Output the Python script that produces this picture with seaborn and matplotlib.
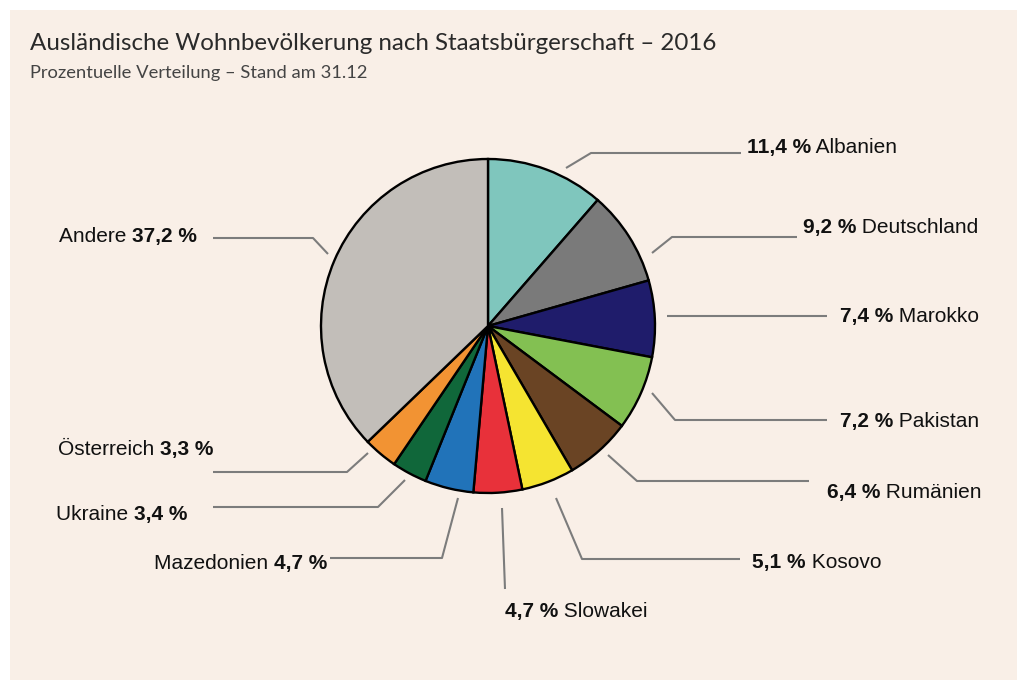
import matplotlib.pyplot as plt
import seaborn as sns
from matplotlib.patches import Rectangle

# Daten
laender = ["Albanien", "Deutschland", "Marokko", "Pakistan", "Rumänien", "Kosovo",
           "Slowakei", "Mazedonien", "Ukraine", "Österreich", "Andere"]
anteile = [11.4, 9.2, 7.4, 7.2, 6.4, 5.1, 4.7, 4.7, 3.4, 3.3, 37.2]
farben = ["#7fc6bd", "#7a7a7a", "#1f1c6b", "#83c052", "#6a4424", "#f5e431",
          "#e8313a", "#2173b9", "#10673a", "#f29333", "#c2beb9"]

# Layout in Pixeln (y nach unten): Textposition (Grundlinie), Seite, Führungslinie
W, H = 1017, 681
layout = {
    "Albanien":    ((747, 153), "r", [(566, 168), (591, 153), (741, 153)]),
    "Deutschland": ((803, 233), "r", [(652, 253), (672, 237), (797, 237)]),
    "Marokko":     ((840, 322), "r", [(667, 316), (827, 316)]),
    "Pakistan":    ((840, 427), "r", [(652, 393), (675, 420), (827, 420)]),
    "Rumänien":    ((827, 498), "r", [(608, 455), (637, 481), (809, 481)]),
    "Kosovo":      ((752, 568), "r", [(556, 498), (582, 559), (740, 559)]),
    "Slowakei":    ((505, 617), "r", [(502, 508), (505, 589)]),
    "Mazedonien":  ((327, 569), "l", [(458, 498), (442, 558), (330, 558)]),
    "Ukraine":     ((187, 520), "l", [(405, 480), (378, 507), (213, 507)]),
    "Österreich":  ((213, 455), "l", [(368, 453), (347, 472), (213, 472)]),
    "Andere":      ((197, 242), "l", [(213, 238), (313, 238), (328, 254)]),
}

sns.set_theme(style="white")
plt.rcParams["font.family"] = ["Liberation Sans", "DejaVu Sans"]


def px(x, y):
    return x, H - y


fig = plt.figure(figsize=(W / 100, H / 100), dpi=100, facecolor="white")
ax = fig.add_axes([0, 0, 1, 1])
ax.set_facecolor("white")

ax.add_patch(Rectangle(px(10, 680), 1007, 670, facecolor="#f9efe7", edgecolor="none", zorder=0))

ax.pie(anteile, colors=farben, startangle=90, counterclock=False,
       center=px(488, 326), radius=167,
       wedgeprops=dict(edgecolor="black", linewidth=1.7))

fs = 15
for land, wert in zip(laender, anteile):
    (tx, ty), seite, pfad = layout[land]
    xs, ys = zip(*[px(x, y) for x, y in pfad])
    ax.plot(xs, ys, color="#7c7c7c", lw=1.5, solid_capstyle="butt")
    proz = f"{wert:.1f}".replace(".", ",") + " %"
    if seite == "r":
        t = ax.text(*px(tx, ty), proz, ha="left", va="baseline", fontsize=fs,
                    fontweight="bold", color="#111111")
        ax.annotate(" " + land, xy=(1, 0), xycoords=t, ha="left", va="bottom",
                    fontsize=fs, color="#111111")
    else:
        t = ax.text(*px(tx, ty), proz, ha="right", va="baseline", fontsize=fs,
                    fontweight="bold", color="#111111")
        ax.annotate(land + " ", xy=(0, 0), xycoords=t, ha="right", va="bottom",
                    fontsize=fs, color="#111111")

ax.text(*px(30, 50), "Ausländische Wohnbevölkerung nach Staatsbürgerschaft – 2016",
        ha="left", va="baseline", fontsize=17.4, family=["Lato", "DejaVu Sans"], color="#2a2a2a")
ax.text(*px(30, 78), "Prozentuelle Verteilung – Stand am 31.12",
        ha="left", va="baseline", fontsize=13.2, family=["Lato", "DejaVu Sans"], color="#444444")

ax.set_xlim(0, W)
ax.set_ylim(0, H)
ax.set_aspect("auto")
ax.axis("off")

fig.savefig("out.png", dpi=100, facecolor="white")
